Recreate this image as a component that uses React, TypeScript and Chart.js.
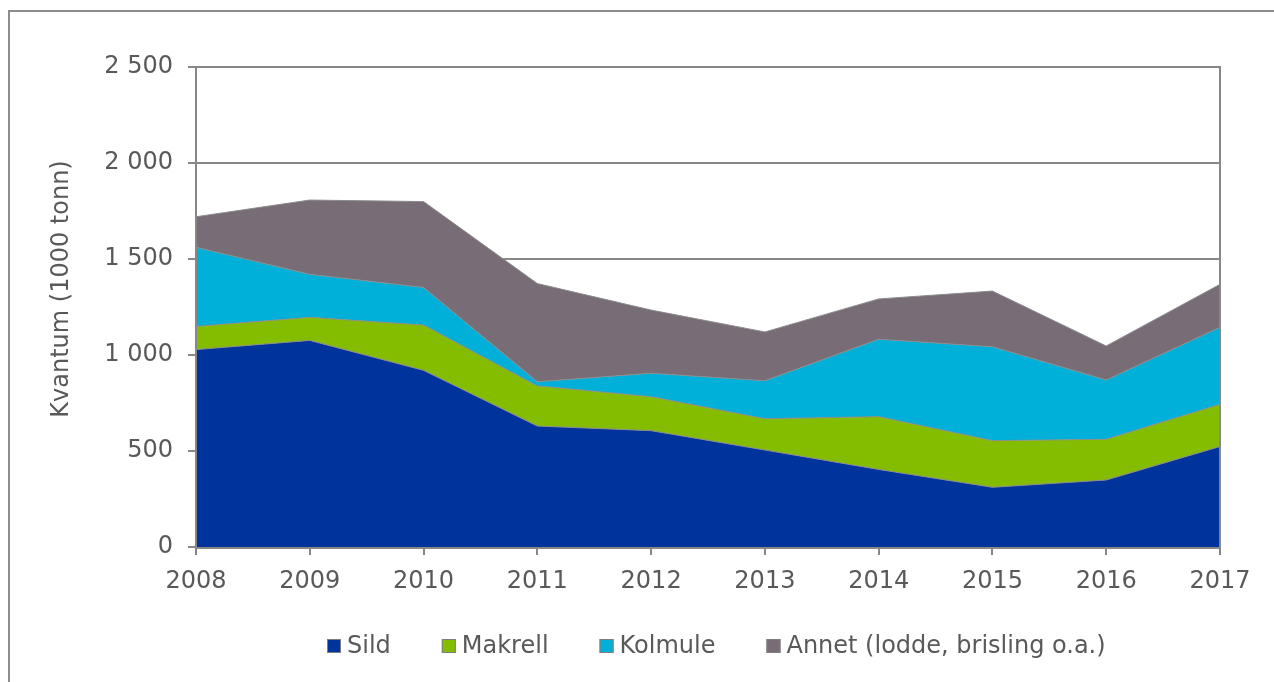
import React, { useEffect, useRef } from "react";
import { Chart, registerables } from "chart.js";

Chart.register(...registerables);

const years = ["2008", "2009", "2010", "2011", "2012", "2013", "2014", "2015", "2016", "2017"];
const sild = [1028, 1076, 920, 630, 606, 505, 404, 311, 349, 523];
const makrell = [121, 120, 236, 209, 177, 163, 275, 243, 212, 220];
const kolmule = [412, 224, 196, 22, 122, 198, 403, 489, 309, 401];
const annet = [159, 387, 447, 511, 329, 254, 210, 290, 177, 224];

const seriesNames = ["Sild", "Makrell", "Kolmule", "Annet (lodde, brisling o.a.)"];
const seriesColors = ["#00339c", "#84bc00", "#00b0d8", "#786c76"];
const yTitle = "Kvantum (1000 tonn)";

const FONT = "DejaVu Sans, Verdana, sans-serif";
const TEXT = "#595959";
const AXIS = "#878787";

const fmt = (v: number) => String(v).replace(/\B(?=(\d{3})+(?!\d))/g, " ");

export default function App() {
  const ref = useRef<HTMLCanvasElement | null>(null);

  useEffect(() => {
    if (!ref.current) return;
    const values = [sild, makrell, kolmule, annet];

    const custom = {
      id: "custom",
      beforeDraw(chart: any) {
        const { ctx, width, height } = chart;
        ctx.save();
        ctx.fillStyle = "#ffffff";
        ctx.fillRect(0, 0, width, height);
        ctx.fillStyle = "#8c8c8c";
        ctx.fillRect(8, 10, 2, height - 10);
        ctx.fillRect(8, 10, width - 8, 2);
        ctx.restore();
      },
      afterDatasetsDraw(chart: any) {
        const { ctx, chartArea } = chart;
        ctx.save();
        ctx.strokeStyle = AXIS;
        ctx.lineWidth = 2;
        ctx.beginPath();
        ctx.moveTo(chartArea.left, chartArea.top - 1);
        ctx.lineTo(chartArea.left, chartArea.bottom + 1);
        ctx.lineTo(chartArea.right, chartArea.bottom + 1);
        ctx.moveTo(chartArea.right, chartArea.top - 1);
        ctx.lineTo(chartArea.right, chartArea.bottom + 1);
        ctx.stroke();
        ctx.restore();
      },
      afterDraw(chart: any) {
        const { ctx, width, height } = chart;
        ctx.save();
        ctx.font = `24px ${FONT}`;
        ctx.fillStyle = TEXT;
        ctx.textAlign = "center";
        ctx.textBaseline = "middle";
        ctx.translate(62, 289);
        ctx.rotate(-Math.PI / 2);
        ctx.fillText(yTitle, 0, 0);
        ctx.restore();

        ctx.save();
        ctx.font = `24px ${FONT}`;
        ctx.textBaseline = "middle";
        ctx.textAlign = "left";
        let x = 327;
        const cy = 646;
        seriesNames.forEach((name, i) => {
          ctx.fillStyle = seriesColors[i];
          ctx.fillRect(x, cy - 7, 14, 14);
          ctx.strokeStyle = "#7f7f7f";
          ctx.lineWidth = 1;
          ctx.strokeRect(x + 0.5, cy - 6.5, 13, 13);
          ctx.fillStyle = TEXT;
          const tx = x + 20;
          ctx.fillText(name, tx, cy + 1);
          x = tx + ctx.measureText(name).width + 51;
        });
        // keep the right margin clear
        ctx.fillStyle = "#ffffff";
        ctx.fillRect(width - 6, 12, 6, height - 12);
        ctx.restore();
      },
    };

    const chart = new Chart(ref.current, {
      type: "line",
      data: {
        labels: years,
        datasets: values.map((v, i) => ({
          label: seriesNames[i],
          data: v,
          backgroundColor: seriesColors[i],
          borderColor: "#8c8c8c",
          borderWidth: 1,
          fill: i === 0 ? "origin" : "-1",
          pointRadius: 0,
          tension: 0,
        })),
      },
      options: {
        animation: false,
        responsive: false,
        devicePixelRatio: 1,
        layout: { padding: { left: 0, right: 54, top: 67, bottom: 75 } },
        plugins: {
          legend: { display: false },
          tooltip: { enabled: false },
          title: { display: false },
        },
        scales: {
          x: {
            grid: { display: true, drawOnChartArea: false, color: AXIS, lineWidth: 2, tickLength: 8 },
            border: { display: true, color: AXIS, width: 2 },
            ticks: { color: TEXT, font: { family: FONT, size: 24 }, padding: 12, maxRotation: 0, autoSkip: false },
            afterFit: (s: any) => {
              s.height = 60;
              s.paddingLeft = 0;
              s.paddingRight = 0;
            },
          },
          y: {
            stacked: true,
            min: 0,
            max: 2500,
            grid: { color: AXIS, lineWidth: 2, tickLength: 8 },
            border: { display: true, color: AXIS, width: 2 },
            ticks: {
              stepSize: 500,
              color: TEXT,
              font: { family: FONT, size: 24 },
              padding: 15,
              callback: (v: any) => fmt(Number(v)),
            },
            afterFit: (s: any) => {
              s.width = 196;
              s.paddingTop = 0;
              s.paddingBottom = 0;
            },
          },
        },
      },
      plugins: [custom],
    } as any);

    return () => chart.destroy();
  }, []);

  return (
    <div style={{ position: "fixed", left: 0, top: 0, right: 0, bottom: 0, overflow: "hidden", background: "#fff" }}>
      <canvas ref={ref} width={1274} height={682} style={{ display: "block", width: 1274, height: 682 }} />
    </div>
  );
}
